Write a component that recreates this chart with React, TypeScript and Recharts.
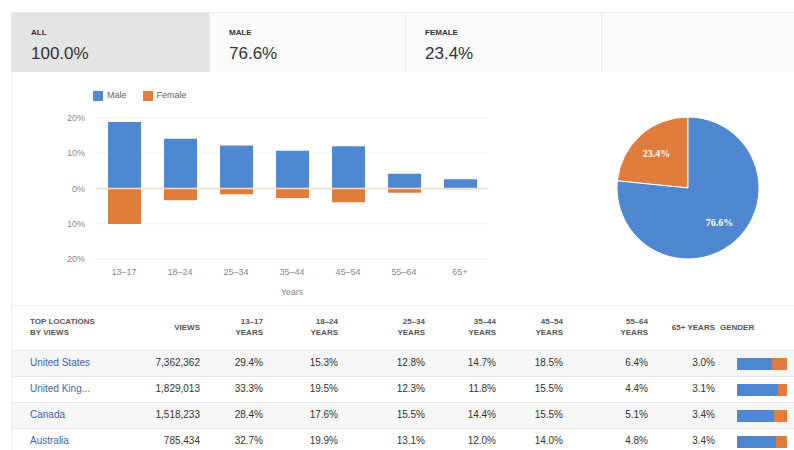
import React from 'react';
import {
  BarChart, Bar, XAxis, YAxis, CartesianGrid, Legend, ReferenceLine,
  PieChart, Pie, Cell,
} from 'recharts';

// ---- data ----
const tabLabels = ['ALL', 'MALE', 'FEMALE'];
const tabValues = ['100.0%', '76.6%', '23.4%'];

const ageGroups = ['13–17', '18–24', '25–34', '35–44', '45–54', '55–64', '65+'];
const maleShare = [18.9, 14.1, 12.2, 10.7, 12.0, 4.2, 2.6];
const femaleShare = [-10.1, -3.3, -1.6, -2.7, -3.9, -1.2, -0.2];
const yTicks = [-20, -10, 0, 10, 20];

const pieNames = ['Female', 'Male'];
const pieValues = [23.4, 76.6];

const tableHeaders = ['VIEWS', '13–17|YEARS', '18–24|YEARS', '25–34|YEARS', '35–44|YEARS', '45–54|YEARS', '55–64|YEARS', '65+ YEARS'];
const countries = ['United States', 'United King...', 'Canada', 'Australia'];
const views = ['7,362,362', '1,829,013', '1,518,233', '785,434'];
const age1317 = ['29.4%', '33.3%', '28.4%', '32.7%'];
const age1824 = ['15.3%', '19.5%', '17.6%', '19.9%'];
const age2534 = ['12.8%', '12.3%', '15.5%', '13.1%'];
const age3544 = ['14.7%', '11.8%', '14.4%', '12.0%'];
const age4554 = ['18.5%', '15.5%', '15.5%', '14.0%'];
const age5564 = ['6.4%', '4.4%', '5.1%', '4.8%'];
const age65 = ['3.0%', '3.1%', '3.4%', '3.4%'];
const genderMale = [70, 82, 74, 78];
const genderFemale = [30, 18, 26, 22];

// ---- styling ----
const BLUE = '#4f87d0';
const ORANGE = '#e07d3d';
const FONT = 'Arial, "Liberation Sans", Helvetica, sans-serif';

const barData = ageGroups.map((g, i) => ({ group: g, Male: maleShare[i], Female: femaleShare[i] }));
const pieData = pieNames.map((n, i) => ({ name: n, value: pieValues[i] }));
const columns = [views, age1317, age1824, age2534, age3544, age4554, age5564, age65];
const colRight = [200, 263, 338, 425, 496, 563, 648, 715];

const RAD = Math.PI / 180;
const renderPieLabel = (props: any) => {
  const { cx, cy, midAngle, outerRadius, value } = props;
  const r = outerRadius * 0.66;
  const x = cx + r * Math.cos(-midAngle * RAD);
  const y = cy + r * Math.sin(-midAngle * RAD);
  return (
    <text x={x} y={y} fill="#fff" textAnchor="middle" dominantBaseline="central"
      fontFamily='"Liberation Serif", "DejaVu Serif", serif' fontWeight="bold" fontSize={10}>
      {value.toFixed(1)}%
    </text>
  );
};

const GenderBar = ({ i }: { i: number }) => (
  <BarChart width={50} height={12} layout="vertical" margin={{ top: 0, right: 0, bottom: 0, left: 0 }}
    data={[{ k: countries[i], m: genderMale[i], f: genderFemale[i] }]} barCategoryGap={0}>
    <XAxis type="number" domain={[0, 100]} hide />
    <YAxis type="category" dataKey="k" hide />
    <Bar dataKey="m" stackId="g" fill={BLUE} isAnimationActive={false} />
    <Bar dataKey="f" stackId="g" fill={ORANGE} isAnimationActive={false} />
  </BarChart>
);

const legendOrder = (item: any) => (item.value === 'Male' ? 0 : 1);

export default function App() {
  const tabX = [12, 210, 406, 602];
  return (
    <div style={{ position: 'absolute', left: 0, top: 0, width: 794, height: 450, background: '#fff', fontFamily: FONT, overflow: 'hidden' }}>
      {/* panel border */}
      <div style={{ position: 'absolute', left: 11, top: 12, width: 800, height: 460, border: '1px solid #ededed' }} />
      {/* tabs */}
      {tabX.map((x, i) => (
        <div key={i} style={{
          position: 'absolute', left: x, top: 13, width: (i < 3 ? tabX[i + 1] : 800) - x, height: 59,
          background: i === 0 ? '#e4e4e4' : '#fafafa', borderRight: '1px solid #ececec', boxSizing: 'border-box',
        }}>
          {i < 3 && (
            <>
              <div style={{ position: 'absolute', left: 19, top: 15, fontSize: 8, fontWeight: 'bold', color: '#333' }}>{tabLabels[i]}</div>
              <div style={{ position: 'absolute', left: 19, top: 31, fontSize: 17, color: '#333' }}>{tabValues[i]}</div>
            </>
          )}
        </div>
      ))}

      {/* bar chart */}
      <div style={{ position: 'absolute', left: 0, top: 85 }}>
        <BarChart width={510} height={220} data={barData} stackOffset="sign"
          margin={{ top: 33, right: 22, left: 36, bottom: 6 }}>
          <CartesianGrid vertical={false} stroke="#efefef" />
          <XAxis dataKey="group" axisLine={false} tickLine={false} tickMargin={4} height={40}
            tick={{ fontSize: 9, fill: '#888', fontFamily: FONT }}
            label={{ value: 'Years', position: 'insideBottom', offset: 4, fontSize: 9, fill: '#888', fontFamily: FONT }} />
          <YAxis width={60} domain={[-20, 20]} ticks={yTicks} axisLine={false} tickLine={false} tickMargin={5}
            tickFormatter={(v: number) => `${Math.abs(v)}%`}
            tick={{ fontSize: 9, fill: '#888', fontFamily: FONT }} />
          <ReferenceLine y={0} stroke="#f8d9c2" strokeWidth={1.5} />
          <Legend verticalAlign="middle" align="center" iconType="square" iconSize={10}
            itemSorter={legendOrder}
            wrapperStyle={{ top: 5, left: 93, width: 'auto', fontSize: 9, fontFamily: FONT }}
            formatter={(value: string) => <span style={{ color: '#666', marginRight: 6 }}>{value}</span>} />
          <Bar dataKey="Male" name="Male" stackId="s" fill={BLUE} barSize={33} isAnimationActive={false} />
          <Bar dataKey="Female" name="Female" stackId="s" fill={ORANGE} barSize={33} isAnimationActive={false} />
        </BarChart>
      </div>

      {/* pie chart */}
      <div style={{ position: 'absolute', left: 595, top: 95 }}>
        <PieChart width={186} height={186}>
          <Pie data={pieData} dataKey="value" nameKey="name" cx={88} cy={88} outerRadius={71}
            startAngle={90} endAngle={450} stroke="#ffffff" strokeWidth={1}
            label={renderPieLabel} labelLine={false} isAnimationActive={false}>
            {pieData.map((d, i) => <Cell key={d.name} fill={i === 0 ? ORANGE : BLUE} />)}
          </Pie>
        </PieChart>
      </div>

      {/* table */}
      <div style={{ position: 'absolute', left: 12, top: 305, width: 782, height: 1, background: '#eeeeee' }} />
      <div style={{ position: 'absolute', left: 30, top: 316, fontSize: 8, fontWeight: 'bold', color: '#555', lineHeight: '11px' }}>
        TOP LOCATIONS<br />BY VIEWS
      </div>
      {tableHeaders.map((h, c) => {
        const parts = h.split('|');
        return (
          <div key={h} style={{
            position: 'absolute', left: colRight[c] - 80, width: 80, textAlign: 'right',
            top: parts.length > 1 ? 316 : 322, fontSize: 8, fontWeight: 'bold', color: '#555', lineHeight: '11px',
          }}>
            {parts.map((p, k) => <div key={k}>{p}</div>)}
          </div>
        );
      })}
      <div style={{ position: 'absolute', left: 720, top: 322, fontSize: 8, fontWeight: 'bold', color: '#555', lineHeight: '11px' }}>GENDER</div>

      {countries.map((name, r) => {
        const top = 350 + r * 26;
        return (
          <div key={name} style={{ position: 'absolute', left: 12, top, width: 782, height: 26, background: r % 2 === 0 ? '#f7f7f7' : '#fff', borderTop: '1px solid #e9e9e9', boxSizing: 'border-box' }}>
            <div style={{ position: 'absolute', left: 18, top: 6, fontSize: 10, color: '#3d66b3' }}>{name}</div>
            {columns.map((col, c) => (
              <div key={c} style={{ position: 'absolute', left: colRight[c] - 12 - 90, width: 90, textAlign: 'right', top: 6, fontSize: 10, color: '#333' }}>{col[r]}</div>
            ))}
            <div style={{ position: 'absolute', left: 725, top: 7 }}>
              <GenderBar i={r} />
            </div>
          </div>
        );
      })}
    </div>
  );
}
